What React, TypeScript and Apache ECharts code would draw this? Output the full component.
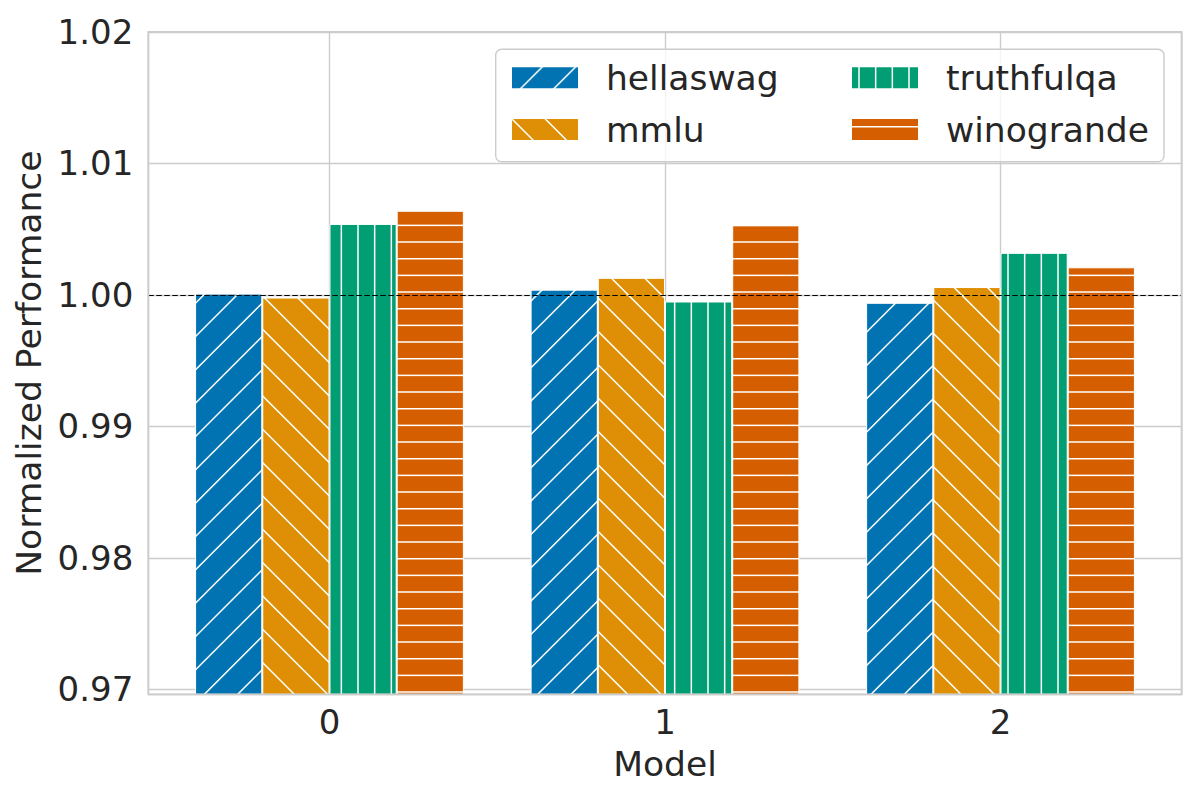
import React, { useEffect, useRef } from "react";
import * as echarts from "echarts";

// ---- data ----
const models = [0, 1, 2];
const seriesNames = ["hellaswag", "mmlu", "truthfulqa", "winogrande"];
const hellaswag = [1.0001, 1.0004, 0.9994];
const mmlu = [0.9998, 1.0013, 1.0006];
const truthfulqa = [1.0054, 0.9995, 1.0032];
const winogrande = [1.0064, 1.0053, 1.0021];
const seriesValues = [hellaswag, mmlu, truthfulqa, winogrande];
const colors = ["#0173B2", "#DE8F05", "#029E73", "#D55E00"];
const hatches = ["/", "\\", "|", "-"];
const referenceLine = 1.0;

const TEXT = "#262626";
const GRID = "#cccccc";
const FONT = "DejaVu Sans";
const FS = 34.5;
const FS_TICK = 34;

function hatchPattern(color: string, hatch: string) {
  const T = 100;
  const k = 2;
  const diag = hatch === "/" || hatch === "\\";
  const s = diag ? 100 / 3 : 50 / 3;
  const c = document.createElement("canvas");
  c.width = T * k;
  c.height = T * k;
  const ctx = c.getContext("2d")!;
  ctx.scale(k, k);
  ctx.fillStyle = color;
  ctx.fillRect(0, 0, T, T);
  ctx.strokeStyle = "#ffffff";
  ctx.lineWidth = 1.5;
  ctx.beginPath();
  if (hatch === "-") {
    for (let y = 8.7 - s; y < T + s; y += s) {
      ctx.moveTo(-5, y);
      ctx.lineTo(T + 5, y);
    }
  } else if (hatch === "|") {
    for (let x = 8.0 - s; x < T + s; x += s) {
      ctx.moveTo(x, -5);
      ctx.lineTo(x, T + 5);
    }
  } else if (hatch === "/") {
    for (let c0 = 32 - 2 * s; c0 < 2 * T + 2 * s; c0 += s) {
      ctx.moveTo(c0 + 5, -5);
      ctx.lineTo(c0 - T - 5, T + 5);
    }
  } else {
    for (let c0 = -T - 2 * s; c0 < T + 2 * s; c0 += s) {
      ctx.moveTo(c0 - 5, -5);
      ctx.lineTo(c0 + T + 5, T + 5);
    }
  }
  ctx.stroke();
  return {
    image: c.toDataURL(),
    repeat: "repeat",
    imageWidth: T,
    imageHeight: T,
  } as any;
}

export default function App() {
  const ref = useRef<HTMLDivElement>(null);

  useEffect(() => {
    document.body.style.margin = "0";
    if (!ref.current) return;
    const chart = echarts.init(ref.current, undefined, { renderer: "svg" });

    const left = 148.3;
    const right = 1181.7;
    const top = 32;
    const bottom = 694.3;

    const series: any[] = seriesNames.map((name, si) => ({
      name,
      type: "bar",
      data: models.map((m, i) => [m, seriesValues[si][i]]),
      barWidth: 67.2,
      barGap: "0%",
      itemStyle: {
        color: hatchPattern(colors[si], hatches[si]),
        borderColor: "#ffffff",
        borderWidth: 1,
      },
      emphasis: { disabled: true },
      z: 2,
    }));
    series[0].markLine = {
      silent: true,
      symbol: ["none", "none"],
      label: { show: false },
      lineStyle: { color: "#000000", type: [5.5, 2.5], width: 1.2 },
      data: [{ yAxis: referenceLine }],
    };

    const legendCommon = {
      orient: "vertical",
      top: 57.7,
      padding: 0,
      itemWidth: 68,
      itemHeight: 23,
      itemGap: 11.8,
      icon: "rect",
      selectedMode: false,
      textStyle: {
        fontFamily: FONT,
        fontSize: FS,
        color: TEXT,
        lineHeight: 40,
        padding: [0, 0, 0, 22],
      },
    };

    chart.setOption({
      animation: false,
      textStyle: { fontFamily: FONT },
      grid: {
        left,
        right: 1200 - right,
        top,
        bottom: 800 - bottom,
        containLabel: false,
      },
      legend: [
        { ...legendCommon, left: 510, data: ["hellaswag", "mmlu"] },
        { ...legendCommon, left: 850, data: ["truthfulqa", "winogrande"] },
      ],
      xAxis: {
        type: "value",
        min: -0.54,
        max: 2.54,
        splitNumber: 3,
        name: "Model",
        nameLocation: "middle",
        nameGap: 52,
        nameTextStyle: { fontFamily: FONT, fontSize: FS, color: TEXT },
        axisLine: { show: false },
        axisTick: { show: false },
        axisLabel: {
          fontFamily: FONT,
          fontSize: FS_TICK,
          color: TEXT,
          margin: 11,
          showMinLabel: false,
          showMaxLabel: false,
          formatter: (v: number) =>
            Math.abs(v - Math.round(v)) < 1e-9 ? String(Math.round(v)) : "",
        },
        splitLine: { show: true, lineStyle: { color: GRID, width: 1.4 } },
      },
      yAxis: {
        type: "value",
        min: 0.96962,
        max: 1.02,
        splitNumber: 5,
        name: "Normalized Performance",
        nameLocation: "middle",
        nameGap: 96,
        nameTextStyle: { fontFamily: FONT, fontSize: FS, color: TEXT },
        axisLine: { show: false },
        axisTick: { show: false },
        axisLabel: {
          fontFamily: FONT,
          fontSize: FS_TICK,
          color: TEXT,
          margin: 15,
          showMinLabel: false,
          formatter: (v: number) => {
            const r = Math.round(v * 100) / 100;
            return Math.abs(v - r) < 1e-7 ? r.toFixed(2) : "";
          },
        },
        splitLine: { show: true, lineStyle: { color: GRID, width: 1.4 } },
      },
      graphic: [
        {
          type: "rect",
          z: 3,
          silent: true,
          shape: { x: 495.7, y: 49.3, width: 1164 - 495.7, height: 112.4, r: 6 },
          style: { fill: "rgba(255,255,255,0.8)", stroke: GRID, lineWidth: 1.4 },
        },
        {
          type: "rect",
          z: 100,
          silent: true,
          shape: { x: left, y: top, width: right - left, height: bottom - top },
          style: { fill: "none", stroke: GRID, lineWidth: 1.8 },
        },
      ],
      series,
    });

    return () => chart.dispose();
  }, []);

  return <div ref={ref} style={{ width: 1200, height: 800 }} />;
}
